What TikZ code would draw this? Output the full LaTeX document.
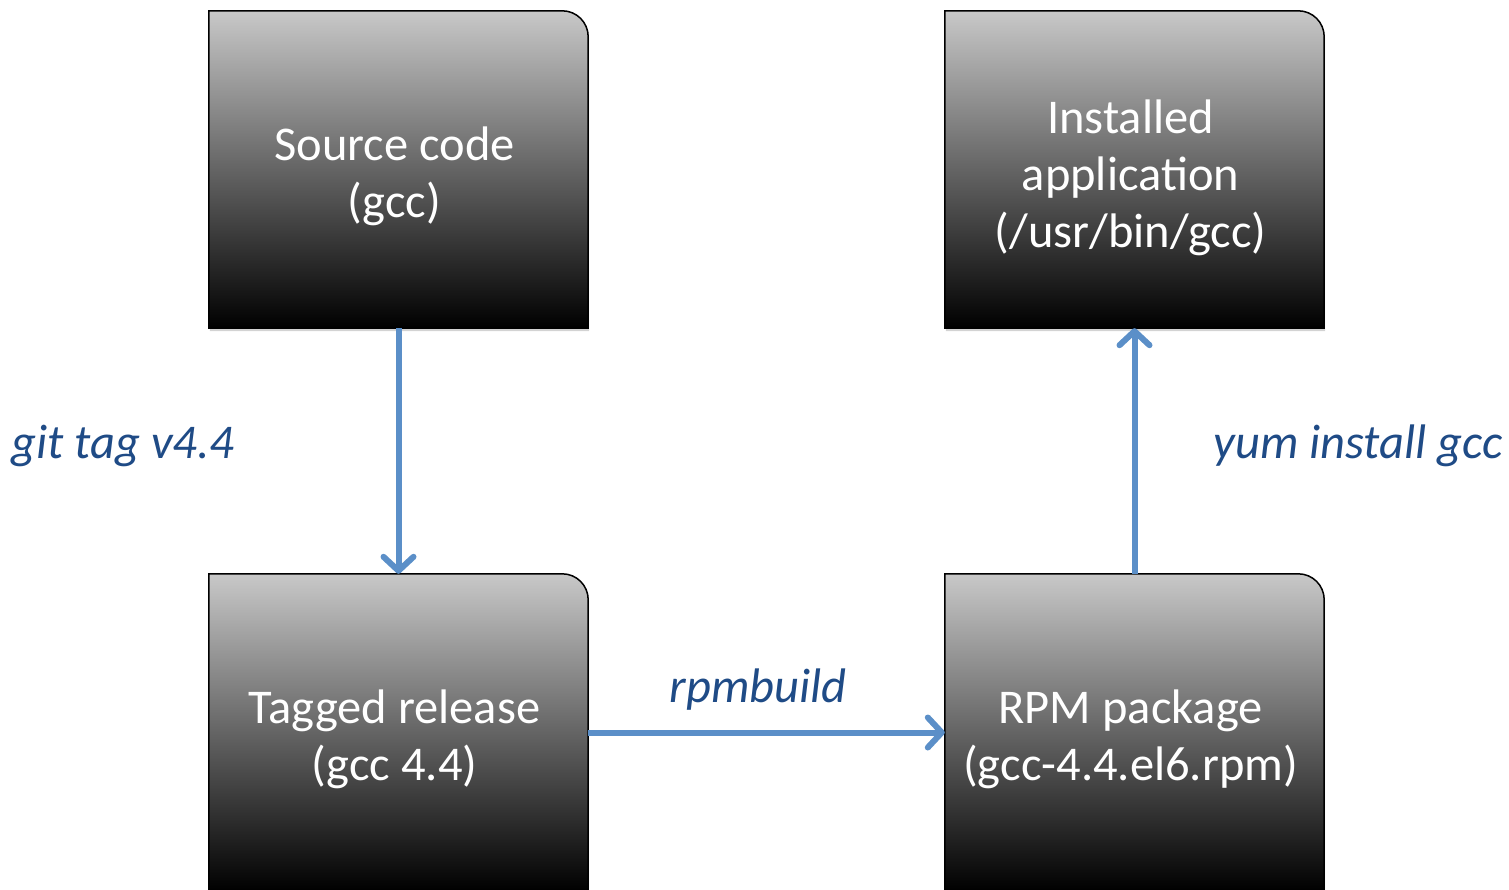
\documentclass[tikz,border=0pt]{standalone}
\usepackage{fontspec}
\setmainfont{Carlito}
\usetikzlibrary{arrows.meta,backgrounds,shadows}
\definecolor{arrowblue}{HTML}{5B8FC8}
\definecolor{labelblue}{HTML}{1F4B86}
\definecolor{boxtop}{HTML}{C8C8C8}
\tikzset{
  stagebox/.style={minimum width=379pt, minimum height=317pt, inner sep=0pt},
  stagetext/.style={text=white, align=center, inner sep=0pt,
    font=\fontsize{48.5}{57}\selectfont},
  cmdlabel/.style={text=labelblue, font=\fontsize{48.5}{57}\selectfont\itshape},
  flow/.style={draw=arrowblue, line width=6pt,
    -{Straight Barb[length=14pt,width=30pt,round]}},
  boxfill/.style={top color=boxtop, bottom color=black, draw=black, line width=1.5pt,
    drop shadow={opacity=0.35, shadow xshift=1pt, shadow yshift=-3pt}},
}
\newcommand\stageshape[1]{%
  \shade[boxfill] (#1.south west) -- (#1.north west) -- ([xshift=-26pt]#1.north east)
    to[out=0,in=90] ([yshift=-26pt]#1.north east) -- (#1.south east) -- cycle;}
\begin{document}
\begin{tikzpicture}[x=1pt,y=-1pt]
\useasboundingbox (0,0) rectangle (1509,890);
\node[stagebox] (src) at (398.5,169.5) {};
\node[stagebox] (inst) at (1134.5,169.5) {};
\node[stagebox] (tag) at (398.5,732.5) {};
\node[stagebox] (rpm) at (1134.5,732.5) {};
\begin{scope}[on background layer]
  \stageshape{src}
  \stageshape{inst}
  \stageshape{tag}
  \stageshape{rpm}
\end{scope}
\node[stagetext] (srct) at ([xshift=-4pt,yshift=-7pt]src.center) {Source code\\(gcc)};
\node[stagetext] (instt) at ([xshift=-4pt,yshift=-8pt]inst.center) {Installed\\application\\(/usr/bin/gcc)};
\node[stagetext] (tagt) at ([xshift=-4pt,yshift=-7pt]tag.center) {Tagged release\\(gcc 4.4)};
\node[stagetext] (rpmt) at ([xshift=-4pt,yshift=-7pt]rpm.center) {RPM package\\(gcc-4.4.el6.rpm)};
\draw[flow] (src.south) -- (tag.north);
\draw[flow] (tag.east) -- (rpm.west);
\draw[flow] (rpm.north) -- (inst.south);
\node[cmdlabel] (l1) at (123,446) {git tag v4.4};
\node[cmdlabel] (l2) at (758,690) {rpmbuild};
\node[cmdlabel] (l3) at (1358,446) {yum install gcc};
\end{tikzpicture}
\end{document}
